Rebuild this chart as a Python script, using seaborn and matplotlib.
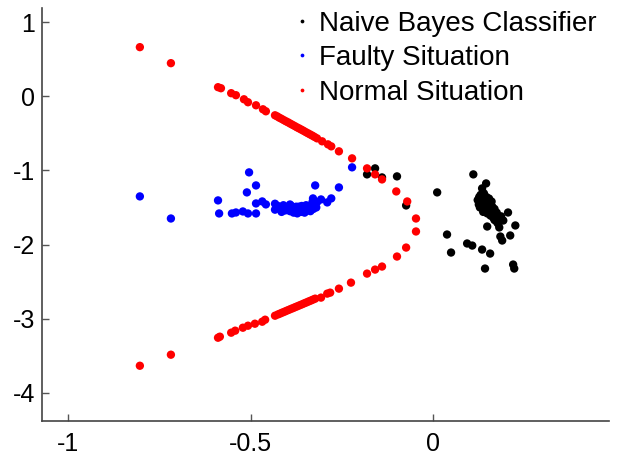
import matplotlib
matplotlib.use("Agg")
import matplotlib.pyplot as plt
import numpy as np
import pandas as pd
import seaborn as sns

# Naive Bayes classifier output (black)
nb_x = [-0.159, -0.181, -0.140, -0.099, -0.074, 0.011, 0.038, 0.049,
        0.110, 0.145, 0.134, 0.205, 0.225, 0.192, 0.148, 0.181, 0.184,
        0.211, 0.189, 0.093, 0.107, 0.134, 0.156, 0.142, 0.219, 0.222,
        # dense cluster
        0.122, 0.126, 0.130, 0.125, 0.132, 0.138, 0.128, 0.135, 0.142,
        0.140, 0.146, 0.150, 0.137, 0.144, 0.152, 0.155, 0.148, 0.158,
        0.160, 0.163, 0.157, 0.166, 0.170, 0.165, 0.172, 0.176, 0.168,
        0.180, 0.175, 0.183, 0.186, 0.178, 0.132, 0.139,
        0.150, 0.156, 0.162, 0.146, 0.153, 0.160, 0.168, 0.174, 0.186]
nb_y = [-0.973, -1.054, -1.095, -1.081, -1.473, -1.297, -1.865, -2.108,
        -1.054, -1.176, -1.243, -1.568, -1.743, -1.676, -1.757, -1.770, -1.892,
        -1.878, -1.946, -1.986, -2.014, -2.068, -2.122, -2.324, -2.270, -2.324,
        -1.40, -1.36, -1.33, -1.46, -1.42, -1.38, -1.50, -1.47, -1.43,
        -1.53, -1.49, -1.45, -1.56, -1.52, -1.48, -1.55, -1.58, -1.51,
        -1.57, -1.54, -1.61, -1.60, -1.58, -1.64, -1.63, -1.61, -1.67,
        -1.66, -1.70, -1.68, -1.65, -1.72, -1.34, -1.31,
        -1.40, -1.44, -1.49, -1.36, -1.38, -1.42, -1.52, -1.57, -1.62]

# Faulty situation (blue)
fa_x = [-0.803, -0.718, -0.589, -0.586, -0.551, -0.540, -0.521, -0.507,
        -0.504, -0.485, -0.510, -0.485, -0.485, -0.468, -0.458,
        -0.323, -0.329, -0.307, -0.290, -0.279, -0.258, -0.222,
        # dense cluster
        -0.433, -0.433, -0.425, -0.418, -0.410, -0.405, -0.398, -0.392,
        -0.388, -0.382, -0.378, -0.372, -0.368, -0.362, -0.358, -0.352,
        -0.348, -0.344, -0.340, -0.336, -0.332, -0.328, -0.324, -0.320,
        -0.318, -0.400, -0.385, -0.370, -0.355, -0.345, -0.335, -0.392,
        -0.375, -0.360, -0.342, -0.330, -0.415, -0.365]
fa_y = [-1.351, -1.649, -1.405, -1.581, -1.581, -1.568, -1.554, -1.581,
        -1.027, -1.203, -1.297, -1.581, -1.446, -1.419, -1.459,
        -1.203, -1.378, -1.392, -1.432, -1.378, -1.230, -0.959,
        -1.45, -1.53, -1.48, -1.52, -1.47, -1.54, -1.50, -1.55,
        -1.48, -1.57, -1.52, -1.58, -1.49, -1.56, -1.51, -1.57,
        -1.47, -1.54, -1.50, -1.55, -1.46, -1.52, -1.44, -1.50,
        -1.43, -1.50, -1.53, -1.54, -1.53, -1.51, -1.49, -1.46,
        -1.49, -1.48, -1.48, -1.42, -1.56, -1.53]

# Normal situation (red)
no_x = [-0.803, -0.718, -0.589, -0.581, -0.553, -0.540, -0.518, -0.507,
        -0.485, -0.466, -0.458,
        -0.433, -0.427, -0.421, -0.415, -0.409, -0.403, -0.397, -0.391,
        -0.385, -0.379, -0.373, -0.367, -0.361, -0.355, -0.349, -0.343,
        -0.337, -0.331, -0.325, -0.318,
        -0.304, -0.288, -0.279, -0.258, -0.222, -0.181, -0.159, -0.140,
        -0.101, -0.071, -0.047, -0.047, -0.074, -0.099, -0.140, -0.159,
        -0.181, -0.225, -0.258, -0.282, -0.290, -0.307,
        -0.323, -0.329, -0.335, -0.341, -0.347, -0.353, -0.359, -0.365,
        -0.371, -0.377, -0.383, -0.389, -0.395, -0.401, -0.407, -0.413,
        -0.419, -0.425, -0.433,
        -0.460, -0.468, -0.488, -0.507, -0.521, -0.542, -0.553, -0.584,
        -0.589, -0.718, -0.803]
no_y = [0.662, 0.446, 0.122, 0.108, 0.041, 0.014, -0.041, -0.081,
        -0.122, -0.176, -0.203,
        -0.257, -0.272, -0.290, -0.305, -0.322, -0.338, -0.353, -0.370,
        -0.386, -0.402, -0.419, -0.434, -0.450, -0.466, -0.483, -0.499,
        -0.515, -0.531, -0.548, -0.568,
        -0.608, -0.649, -0.676, -0.743, -0.838, -0.973, -1.054, -1.122,
        -1.284, -1.419, -1.649, -1.824, -2.041, -2.162, -2.297, -2.338,
        -2.392, -2.514, -2.595, -2.649, -2.662, -2.716,
        -2.730, -2.743, -2.756, -2.768, -2.781, -2.793, -2.806, -2.818,
        -2.831, -2.843, -2.856, -2.868, -2.881, -2.893, -2.906, -2.918,
        -2.931, -2.943, -2.960,
        -3.014, -3.041, -3.068, -3.095, -3.122, -3.162, -3.189, -3.243,
        -3.257, -3.486, -3.635]

labels = ["Naive Bayes Classifier", "Faulty Situation", "Normal Situation"]
colors = ["black", "blue", "red"]

df = pd.concat([
    pd.DataFrame({"x": nb_x, "y": nb_y, "group": labels[0]}),
    pd.DataFrame({"x": fa_x, "y": fa_y, "group": labels[1]}),
    pd.DataFrame({"x": no_x, "y": no_y, "group": labels[2]}),
], ignore_index=True)

sns.set_style("white")
plt.rcParams["font.family"] = ["Liberation Sans", "DejaVu Sans"]
plt.rcParams["text.color"] = "black"

fig = plt.figure(figsize=(6.21, 4.57), dpi=100)
ax = fig.add_axes([0.0676, 0.0788, 0.9134, 0.9037])

sns.scatterplot(data=df, x="x", y="y", hue="group", hue_order=labels,
                palette=dict(zip(labels, colors)), s=36, linewidth=0,
                ax=ax, legend=True)

ax.set_xlim(-1.071, 0.482)
ax.set_ylim(-4.38, 1.19)
ax.set_xticks([-1, -0.5, 0])
ax.set_xticklabels(["-1", "-0.5", "0"])
ax.set_yticks([1, 0, -1, -2, -3, -4])
ax.set_yticklabels(["1", "0", "-1", "-2", "-3", "-4"])
ax.set_xlabel("")
ax.set_ylabel("")
ax.tick_params(bottom=True, left=True, direction="in", length=5, width=1,
               labelsize=18, colors="#555555", labelcolor="black", pad=5)
ax.tick_params(axis="x", pad=8)

for side in ["top", "right"]:
    ax.spines[side].set_visible(False)
for side in ["left", "bottom"]:
    ax.spines[side].set_color("#444444")
    ax.spines[side].set_linewidth(1.2)

handles, labs = ax.get_legend_handles_labels()
leg = ax.legend(handles, labs, loc="upper right", bbox_to_anchor=(0.997, 1.02),
                frameon=False, fontsize=20, markerscale=0.45,
                handletextpad=0.2, handlelength=0.8, labelspacing=0.3,
                borderaxespad=0)
for t in leg.get_texts():
    t.set_color("black")

fig.savefig("out.png", dpi=100)
